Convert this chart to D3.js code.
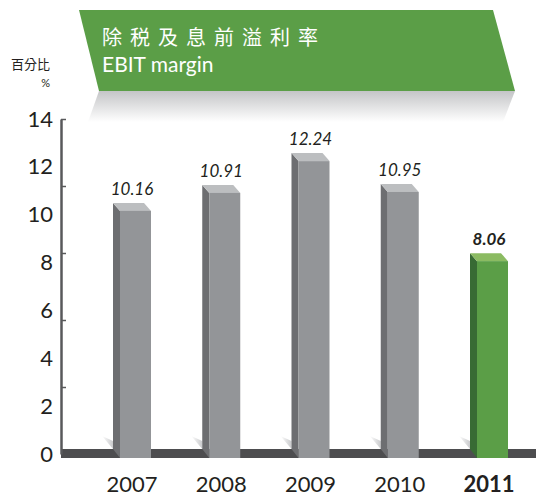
<!DOCTYPE html>
<html>
<head>
<meta charset="utf-8">
<script src="https://cdn.jsdelivr.net/npm/d3@7"></script>
<style>
  body { margin: 0; background: #fff; }
  svg { display: block; }
</style>
</head>
<body>
<div id="chart"></div>
<script>
// data
const years = ["2007", "2008", "2009", "2010", "2011"];
const margins = [10.16, 10.91, 12.24, 10.95, 8.06];
const yLabels = [0, 2, 4, 6, 8, 10, 12, 14];
const axisTicks = [2.8, 5.6, 8.4, 11.2, 14];
const titleZh = "除税及息前溢利率";
const titleEn = "EBIT margin";
const unitZh = "百分比";
const unitSym = "%";

const width = 536, height = 496;
const ink = "#231f20";

const svg = d3.select("#chart")
  .append("svg")
  .attr("width", width)
  .attr("height", height);

const defs = svg.append("defs");

// shadow under the banner
const bg = defs.append("linearGradient")
  .attr("id", "bannerShadow")
  .attr("x1", 0).attr("y1", 0).attr("x2", 0).attr("y2", 1);
bg.append("stop").attr("offset", "0%").attr("stop-color", "#c4c5c7");
bg.append("stop").attr("offset", "100%").attr("stop-color", "#ffffff");

// little shadow at bar feet
const fg = defs.append("linearGradient")
  .attr("id", "footShadow")
  .attr("x1", 1).attr("y1", 0).attr("x2", 0).attr("y2", 0);
fg.append("stop").attr("offset", "0%").attr("stop-color", "#c9cacc");
fg.append("stop").attr("offset", "100%").attr("stop-color", "#ffffff");

// banner
svg.append("polygon")
  .attr("points", "99,91 515,91 503,122 88,122")
  .attr("fill", "url(#bannerShadow)");
svg.append("polygon")
  .attr("points", "79,10 493,10 515,91 99,91")
  .attr("fill", "#5b9e47");

svg.append("text")
  .attr("x", 102)
  .attr("y", 45)
  .attr("fill", "#fff")
  .style("font-family", "'Noto Sans CJK TC', 'Noto Sans CJK SC', sans-serif")
  .style("font-size", "20px")
  .style("letter-spacing", "8px")
  .text(titleZh);

svg.append("text")
  .attr("x", 102)
  .attr("y", 72)
  .attr("fill", "#fff")
  .style("font-family", "Lato, sans-serif")
  .style("font-size", "21px")
  .text(titleEn);

svg.append("text")
  .attr("x", 50)
  .attr("y", 69)
  .attr("text-anchor", "end")
  .attr("fill", ink)
  .style("font-family", "'Noto Sans CJK TC', sans-serif")
  .style("font-size", "13px")
  .text(unitZh);

svg.append("text")
  .attr("x", 50)
  .attr("y", 87)
  .attr("text-anchor", "end")
  .attr("fill", ink)
  .style("font-family", "Lato, sans-serif")
  .style("font-size", "11px")
  .text(unitSym);

// scales
const x = d3.scalePoint().domain(years).range([135.5, 492.5]);
const y = d3.scaleLinear().domain([0, 14]).range([454, 119]);

const frontW = 31, dx = 7, dy = 8;
const axisX = 61;

// floor band
svg.append("rect")
  .attr("x", axisX)
  .attr("y", y(0) - 5)
  .attr("width", width - axisX)
  .attr("height", 9)
  .attr("fill", "#4d4d4f");

// vertical axis with marks
const axisG = svg.append("g")
  .attr("transform", `translate(${axisX},0)`)
  .call(d3.axisRight(y).tickValues(axisTicks).tickSize(5).tickSizeOuter(0).tickFormat(""));
axisG.select(".domain").attr("stroke", "#58595b").attr("stroke-width", 2.5);
axisG.selectAll(".tick line").attr("stroke", "#58595b").attr("stroke-width", 1.5);

// labels
const labelG = svg.append("g")
  .attr("transform", `translate(${axisX - 8},0)`)
  .call(d3.axisLeft(y).tickValues(yLabels).tickSize(0).tickPadding(0));
labelG.select(".domain").remove();
labelG.selectAll(".tick text")
  .attr("fill", ink)
  .style("font-family", "Lato, sans-serif")
  .style("font-size", "22px");

const data = years.map((yr, i) => ({ year: yr, value: margins[i], last: i === years.length - 1 }));

const bars = svg.append("g")
  .selectAll("g")
  .data(data)
  .join("g");

// foot shadows
bars.append("polygon")
  .attr("fill", "url(#footShadow)")
  .attr("points", d => {
    const sx = x(d.year) - frontW / 2 - dx, sy = y(0) - 5;
    return [[sx - 11, sy - 13], [sx, sy - 8], [sx, sy]].join(" ");
  });

// side face
bars.append("polygon")
  .attr("fill", d => d.last ? "#386b34" : "#6d6e71")
  .attr("points", d => {
    const fx = x(d.year) - frontW / 2, top = y(d.value);
    return [[fx - dx, top - dy], [fx, top], [fx, y(0) + 4], [fx - dx, y(0) - 5]].join(" ");
  });

// top face
bars.append("polygon")
  .attr("fill", d => d.last ? "#8bbb62" : "#bcbec0")
  .attr("points", d => {
    const fx = x(d.year) - frontW / 2, top = y(d.value);
    return [[fx - dx, top - dy], [fx + frontW - dx, top - dy], [fx + frontW, top], [fx, top]].join(" ");
  });

// front face
bars.append("rect")
  .attr("x", d => x(d.year) - frontW / 2)
  .attr("y", d => y(d.value))
  .attr("width", frontW)
  .attr("height", d => y(0) + 4 - y(d.value))
  .attr("fill", d => d.last ? "#5b9e47" : "#939598");

// value labels
bars.append("text")
  .attr("x", d => x(d.year) - dx / 2)
  .attr("y", d => y(d.value) - 16)
  .attr("text-anchor", "middle")
  .attr("fill", ink)
  .style("font-family", "Lato, sans-serif")
  .style("font-style", "italic")
  .style("font-weight", d => d.last ? "bold" : "normal")
  .style("font-size", "17px")
  .text(d => d3.format(".2f")(d.value));

// year labels
bars.append("text")
  .attr("x", d => x(d.year) - dx / 2)
  .attr("y", 492)
  .attr("text-anchor", "middle")
  .attr("fill", ink)
  .style("font-family", "Lato, sans-serif")
  .style("font-weight", d => d.last ? "bold" : "normal")
  .style("font-size", "22px")
  .text(d => d.year);
</script>
</body>
</html>
